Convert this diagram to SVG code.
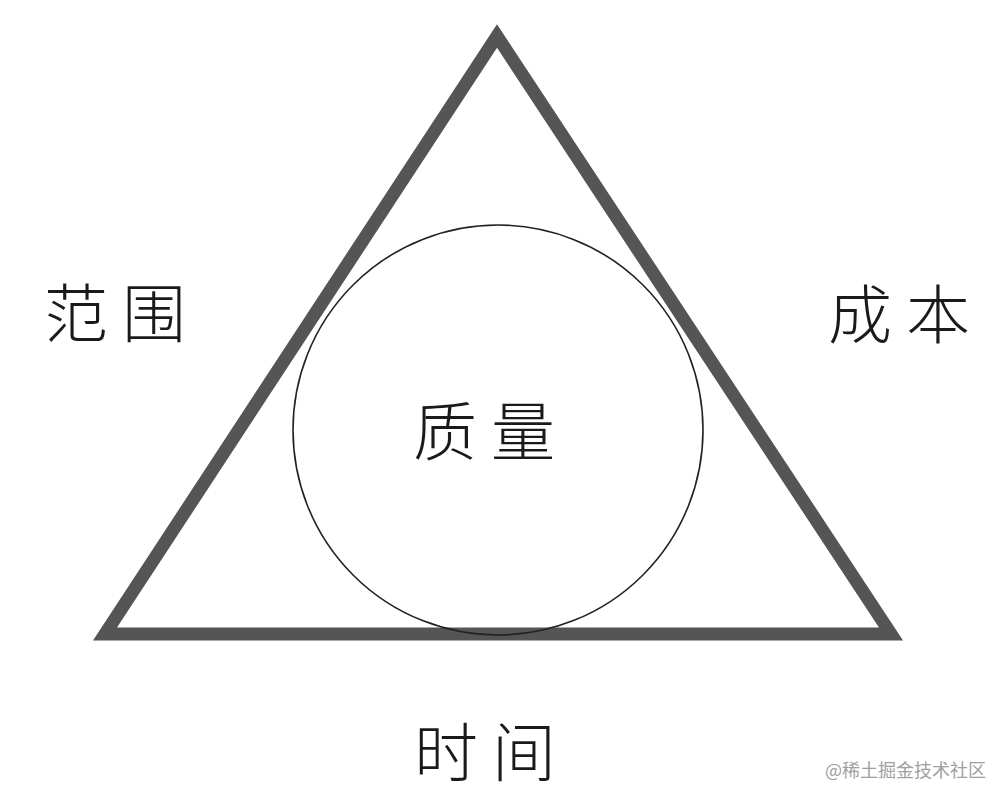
<svg xmlns="http://www.w3.org/2000/svg" width="1008" height="802" viewBox="0 0 1008 802">
<style>
.lbl{font-family:"Noto Sans CJK SC","Noto Sans CJK TC",sans-serif;font-size:64px;font-weight:300;fill:#1a1a1a;text-anchor:middle;dominant-baseline:central;letter-spacing:14px}
.wm{font-family:"Noto Sans CJK SC",sans-serif;font-size:18px;fill:#a0a0a0}
</style>
<rect width="1008" height="802" fill="#ffffff"/>
<g id="triangle">
<polygon points="497,36 105,634 891,634" fill="none" stroke="#555555" stroke-width="13" stroke-linejoin="miter"/>
</g>
<g id="circle">
<circle cx="498" cy="430" r="205" fill="none" stroke="#222222" stroke-width="1.6"/>
</g>
<g id="connectors"></g>
<g id="scope"><text class="lbl" x="122" y="309">范围</text></g>
<g id="cost"><text class="lbl" x="906" y="310">成本</text></g>
<g id="quality"><text class="lbl" x="491" y="427">质量</text></g>
<g id="time"><text class="lbl" x="492" y="748">时间</text></g>
<g id="watermark"><text class="wm" x="825" y="777">@稀土掘金技术社区</text></g>
</svg>
